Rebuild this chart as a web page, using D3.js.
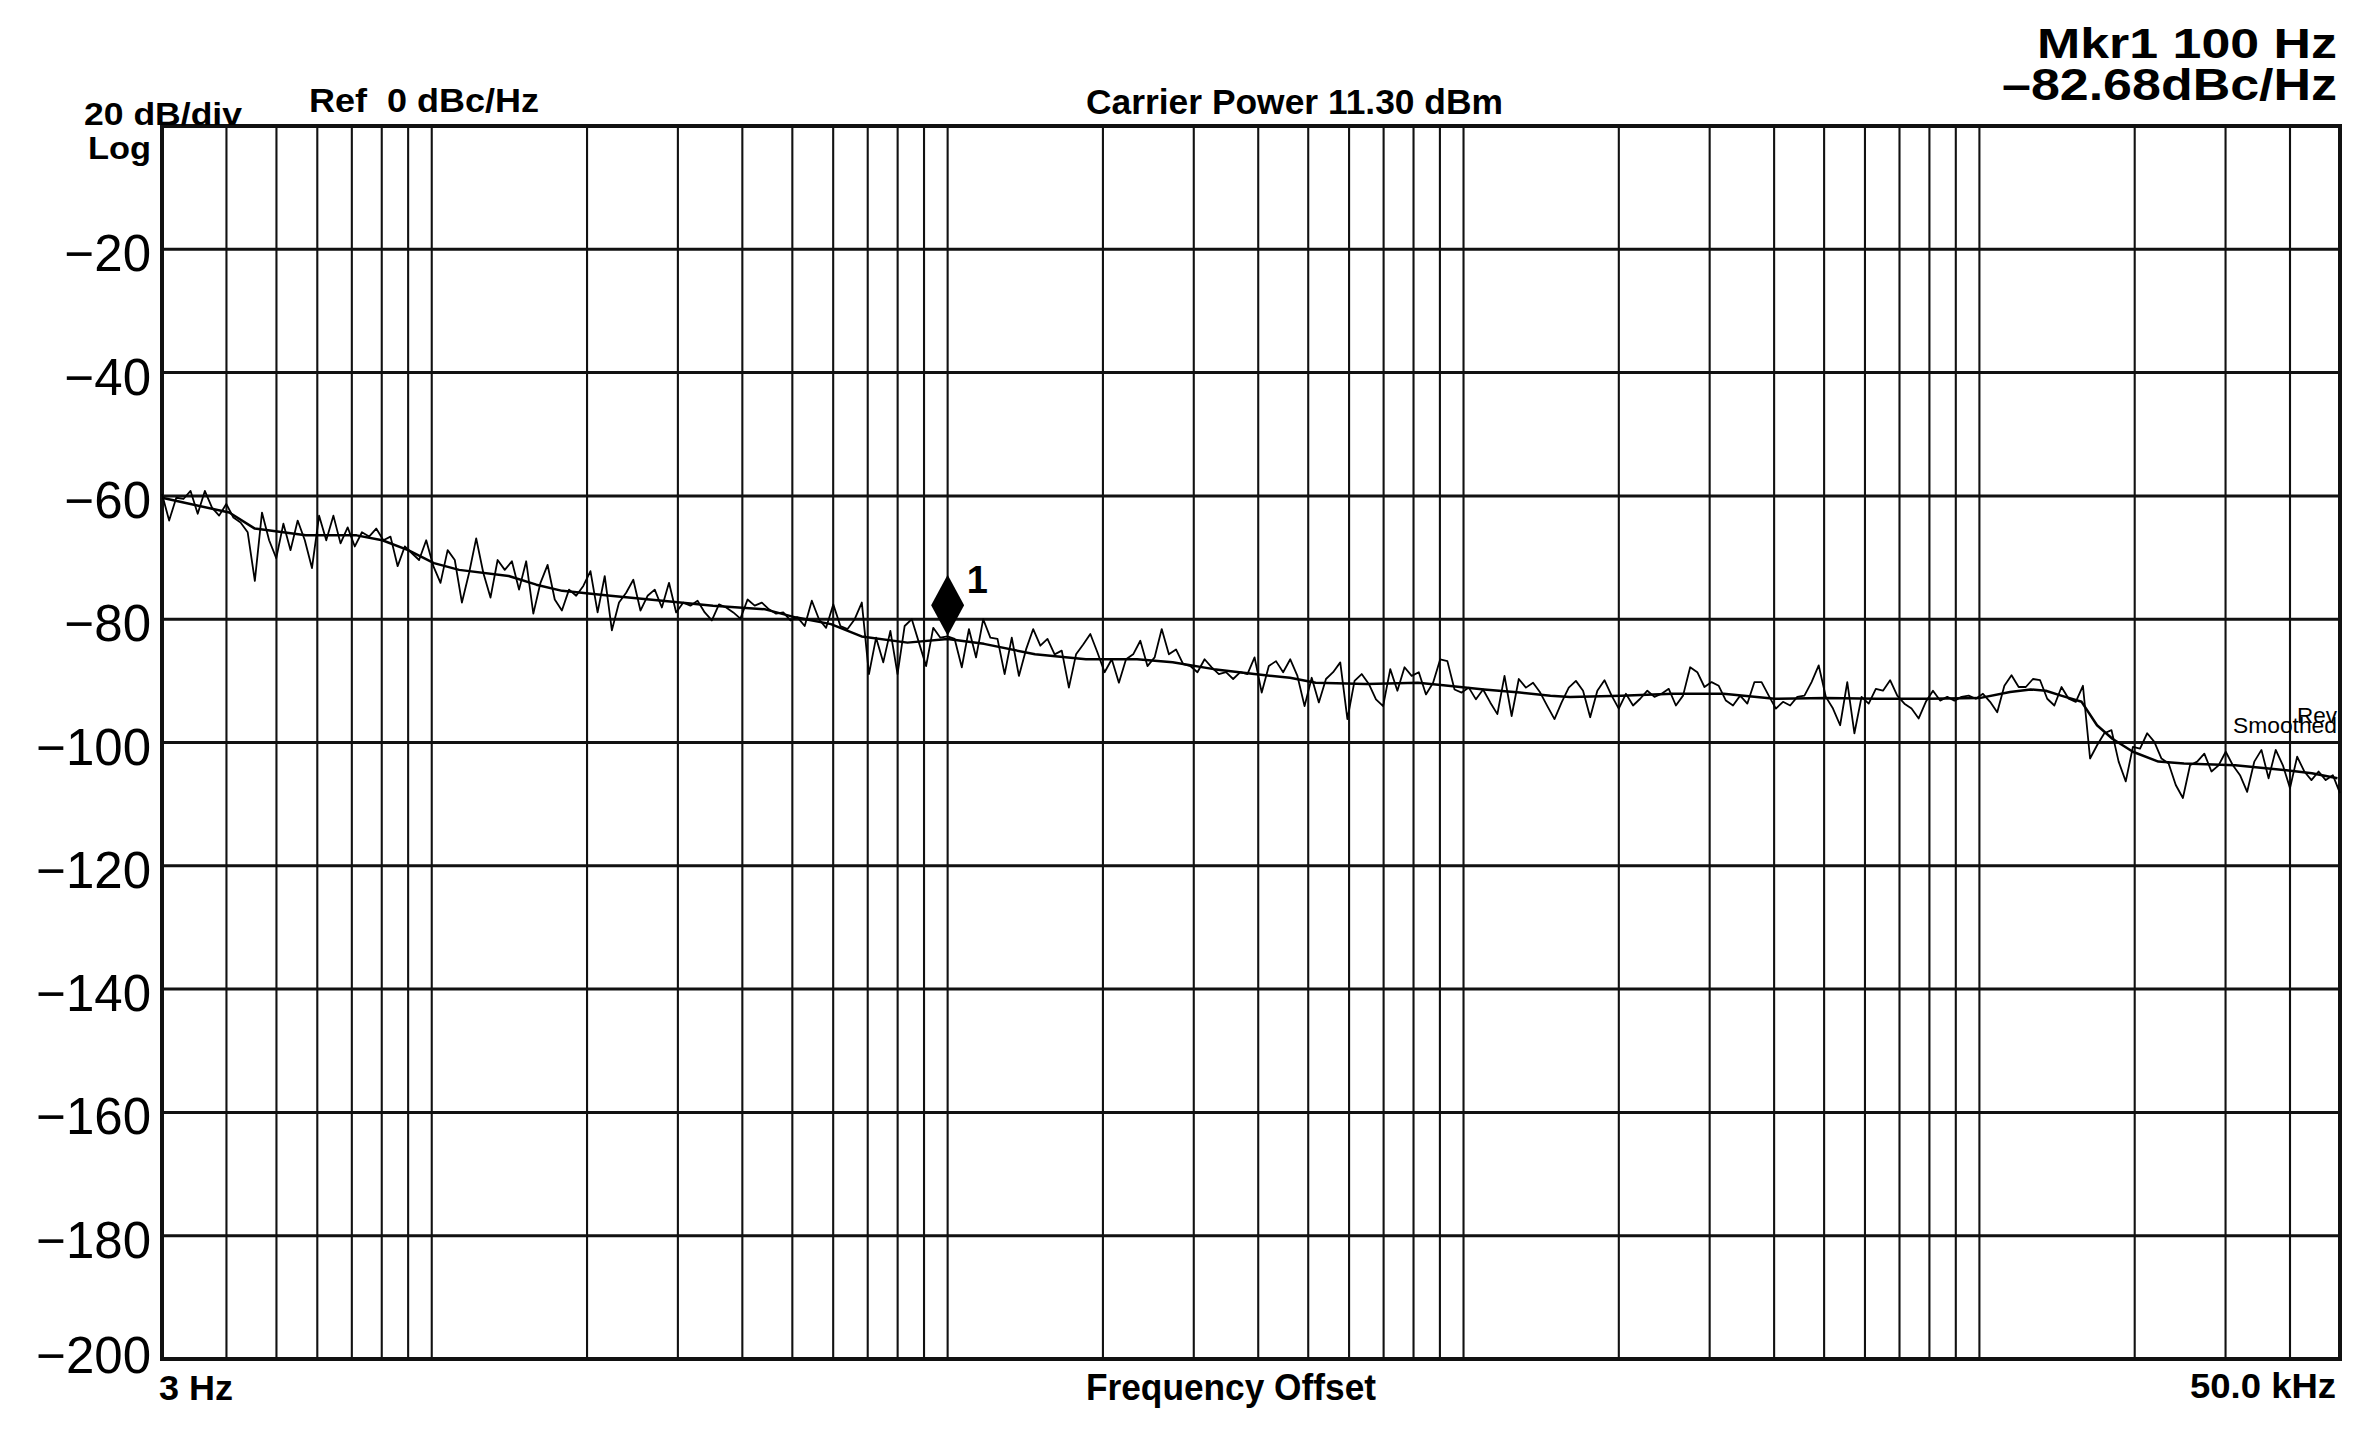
<!DOCTYPE html>
<html><head><meta charset="utf-8">
<script src="https://cdn.jsdelivr.net/npm/d3@7"></script>
<style>html,body{margin:0;padding:0;background:#fff;}svg{display:block;}</style>
</head><body><svg id="chart" width="2372" height="1430"></svg>
<script>
// ---------- DATA ----------
const freqStart = 3, freqStop = 50000;
const yTicks = [-20, -40, -60, -80, -100, -120, -140, -160, -180, -200];
const gridFreqs = [4,5,6,7,8,9,10,20,30,40,50,60,70,80,90,100,200,300,400,500,600,700,800,900,1000,
  2000,3000,4000,5000,6000,7000,8000,9000,10000,20000,30000,40000];

// raw (unsmoothed) trace, points evenly spaced in log frequency from 3 Hz to 50 kHz
const rawLow = [
 -59.7,-64.0,-60.3,-60.5,-59.2,-62.9,-59.2,-61.9,-63.2,-61.3,
 -63.5,-64.3,-65.9,-73.8,-62.7,-67.2,-70.1,-64.5,-68.8,-64.0,
 -67.2,-71.7,-63.2,-67.2,-63.2,-67.7,-65.1,-68.2,-65.9,-66.6,
 -65.3,-67.2,-66.6,-71.4,-68.2,-69.3,-70.4,-67.2,-71.4,-74.1,
 -68.8,-70.4,-77.3,-72.5,-66.9,-72.5,-76.5,-70.4,-72.0,-70.6,
 -75.2,-70.6,-79.1,-74.1,-71.2,-76.8,-78.6,-75.2,-76.2,-74.6,
 -72.2,-78.9,-73.0,-81.8,-77.3,-75.7,-73.6,-78.6,-76.2,-75.2,
 -78.1,-74.1,-78.9,-77.3,-77.8,-77.0,-78.9,-80.2,-77.6,-78.1,
 -78.9,-79.9,-76.8,-77.8,-77.3,-78.4,-79.1,-78.9,-80.2,-79.7];
const rawMid = [
 -81.1,-77.0,-80.0,-81.4,-77.6,-81.1,-81.6,-80.0,-77.3,-88.9,
 -83.0,-87.0,-81.9,-88.9,-81.1,-80.0,-83.8,-87.6,-81.4,-83.0,
 -82.8,-83.2,-87.8,-81.6,-86.2,-80.0,-83.0,-83.2,-88.9,-83.0,
 -89.2,-84.9,-81.6,-84.3,-83.2,-85.7,-85.1,-91.1,-85.7,-84.1,
 -82.4,-85.4,-88.6,-86.5,-90.3,-86.5,-85.7,-83.5,-87.6,-86.2,
 -81.6,-85.7,-84.9,-87.3,-87.6,-88.6,-86.5,-87.8,-88.9,-88.6,
 -89.7,-88.6,-88.9,-86.2,-91.9,-87.6,-86.8,-88.6,-86.5,-89.2,
 -94.1,-89.5,-93.5,-89.7,-88.6,-87.0,-96.2,-90.0,-88.9,-90.5,
 -93.0,-94.1,-88.1,-91.6,-87.8,-89.2,-88.6,-92.2,-90.3,-86.5,
 -86.8,-91.4,-91.9,-91.1,-93.0,-91.4,-93.5,-95.4,-89.2,-95.7,
 -89.7,-91.1,-90.3,-91.9,-94.1,-96.2,-93.5,-91.1,-90.0];
const rawHigh = [
 -91.6,-95.9,-91.6,-89.9,-92.4,-94.5,-92.1,-94.0,-92.9,-91.6,
 -92.6,-92.1,-91.3,-94.0,-92.4,-87.8,-88.6,-91.0,-90.2,-90.8,
 -93.2,-94.0,-92.4,-93.7,-90.2,-90.2,-92.4,-94.5,-93.4,-94.0,
 -92.6,-92.4,-90.2,-87.5,-92.6,-94.5,-97.2,-90.2,-98.5,-92.6,
 -93.7,-91.3,-91.6,-89.9,-92.4,-93.7,-94.5,-96.1,-93.4,-91.6,
 -93.2,-92.6,-93.2,-92.6,-92.4,-92.9,-92.1,-93.4,-95.1,-90.8,
 -89.1,-91.0,-91.0,-89.7,-89.9,-92.9,-94.0,-91.0,-92.9,-93.4,
 -90.8,-102.6,-100.4,-98.5,-98.0,-103.1,-106.3,-100.7,-101.0,-98.5,
 -99.9,-102.6,-103.4,-106.9,-109.0,-103.7,-103.1,-101.8,-104.7,-103.7,
 -101.5,-103.7,-105.3,-108.0,-103.1,-101.2,-105.8,-101.2,-103.7,-107.4,
 -102.3,-104.7,-106.1,-104.7,-106.1,-105.3,-108.2];

// smoothed trace
const smoothFreq = [3,4.05,4.54,5.7,7.15,8.02,9.0,10.1,11.3,14.1,15.95,17.9,22.2,28,35.1,44.3,50.7,
  59.4,68.1,83.6,100,117.6,147.7,185.4,232.9,273,328,393,461,517,649,816,914,1096,1286,1474,
  1609,2023,2540,3192,4010,5040,6330,7956,9996,11464,12565,13450,14403,15781,16902,18103,
  19835,22226,24921,31314,39342,44108,49434];
const smoothDb = [-60.3,-62.7,-65.3,-66.4,-66.4,-67.2,-68.8,-70.9,-72,-73,-74.4,-75.4,-76.2,-77,-77.8,-78.4,-79.7,
  -80.8,-82.8,-83.8,-83.2,-84,-85.7,-86.5,-86.5,-87,-88.1,-88.9,-89.5,-90.3,-90.5,-90.3,-90.7,-91.4,-91.9,-92.4,
  -92.6,-92.4,-92.1,-92.1,-92.9,-92.8,-92.9,-92.9,-92.8,-91.8,-91.4,-91.6,-92.4,-93.4,-97.2,-99.4,
  -101.5,-103.1,-103.4,-103.7,-104.5,-105,-105.8];

const markerFreq = 100, markerDb = -82.68, markerLabel = "1";

// ---------- CHART ----------
const svg = d3.select("#chart");
const FONT = "'Liberation Sans', Arial, Helvetica, sans-serif";
const L = 162, R = 2340, T = 126, B = 1359;
const x = d3.scaleLog().domain([freqStart, freqStop]).range([L, R]);
const y = d3.scaleLinear().domain([-200, 0]).range([B, T]);

// grid
svg.append("g").selectAll("line").data(gridFreqs).join("line")
  .attr("x1", d => x(d)).attr("x2", d => x(d)).attr("y1", T).attr("y2", B)
  .attr("stroke", "#111").attr("stroke-width", 2.1);
svg.append("g").selectAll("line").data(yTicks.filter(v => v > -200)).join("line")
  .attr("x1", L).attr("x2", R).attr("y1", d => y(d)).attr("y2", d => y(d))
  .attr("stroke", "#111").attr("stroke-width", 3);
svg.append("rect").attr("x", L).attr("y", T).attr("width", R - L).attr("height", B - T)
  .attr("fill", "none").attr("stroke", "#111").attr("stroke-width", 4);

// y tick labels
svg.append("g").selectAll("text").data(yTicks).join("text")
  .attr("x", 151).attr("y", d => y(d) + (d === -200 ? 14 : 22))
  .attr("text-anchor", "end").attr("font-family", FONT).attr("font-size", 51)
  .attr("fill", "#000").text(d => "\u2212" + Math.abs(d));

// traces
const raw = rawLow.concat(rawMid, rawHigh);
const n = raw.length;
const logSpan = Math.log10(freqStop / freqStart);
const rawPts = raw.map((v, i) => [freqStart * Math.pow(10, logSpan * i / (n - 1)), v]);
const line = d3.line().x(d => x(d[0])).y(d => y(d[1]));
svg.append("path").datum(rawPts).attr("d", line)
  .attr("fill", "none").attr("stroke", "#000").attr("stroke-width", 1.8).attr("stroke-linejoin", "round");
svg.append("path").datum(smoothFreq.map((f, i) => [f, smoothDb[i]])).attr("d", line)
  .attr("fill", "none").attr("stroke", "#000").attr("stroke-width", 2.5).attr("stroke-linejoin", "round");

// marker
const mx = x(markerFreq), my = y(markerDb);
svg.append("path")
  .attr("d", `M${mx},${my} L${mx + 16.5},${my - 30.5} L${mx},${my - 61} L${mx - 16.5},${my - 30.5} Z`)
  .attr("fill", "#000");
svg.append("text").attr("x", mx + 19).attr("y", my - 43)
  .attr("font-family", FONT).attr("font-size", 38).attr("font-weight", "bold").text(markerLabel);

// texts
function txt(s, x0, base, size, width, weight) {
  svg.append("text").attr("x", x0).attr("y", base)
    .attr("font-family", FONT).attr("font-size", size).attr("font-weight", weight || "bold")
    .attr("textLength", width).attr("lengthAdjust", "spacingAndGlyphs").attr("fill", "#000").text(s);
}
txt("20 dB/div", 84, 125, 31, 158);
txt("Log", 88, 159, 31, 63);
txt("Ref\u00a0 0 dBc/Hz", 309, 112, 34, 230);
txt("Carrier Power 11.30 dBm", 1086, 114, 35, 417);
txt("Mkr1 100 Hz", 2037, 58, 42, 300);
txt("\u201382.68dBc/Hz", 2002, 100, 44, 335);
txt("3 Hz", 159, 1400, 35, 74);
txt("Frequency Offset", 1086, 1400, 36, 290);
txt("50.0 kHz", 2190, 1398, 35, 146);
txt("Rev", 2297, 723, 22, 40, "normal");
txt("Smoothed", 2233, 733, 22, 104, "normal");
</script></body></html>
